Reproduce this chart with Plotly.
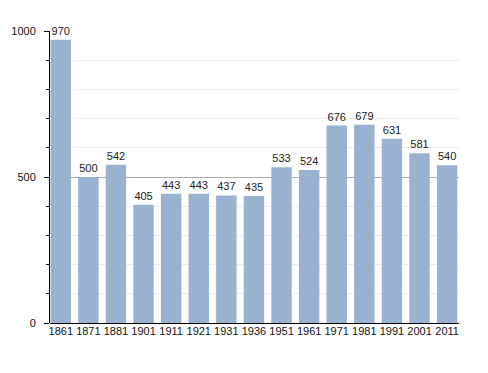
import plotly.graph_objects as go

years = ["1861", "1871", "1881", "1901", "1911", "1921", "1931", "1936",
         "1951", "1961", "1971", "1981", "1991", "2001", "2011"]
population = [970, 500, 542, 405, 443, 443, 437, 435, 533, 524, 676, 679, 631, 581, 540]
y_ticks = [0, 500, 1000]

fig = go.Figure()
fig.add_trace(go.Bar(
    x=years, y=population,
    marker=dict(color="#98b2cf", line=dict(width=0)),
    text=[str(v) for v in population],
    textposition="outside",
    textfont=dict(family="Liberation Sans, Arial, sans-serif", size=11, color="#222"),
    cliponaxis=False,
    width=0.74,
))

# page body has an 8px default margin, so shift the plot area up/left by 8px
fig.update_layout(
    width=488, height=373,
    margin=dict(l=42, r=37, t=23, b=58),
    paper_bgcolor="white", plot_bgcolor="white",
    showlegend=False,
    font=dict(family="Liberation Sans, Arial, sans-serif", size=11, color="#111"),
    xaxis=dict(
        type="category", range=[-0.39, 14.43], automargin=False,
        showline=False, ticks="", showgrid=False,
        tickfont=dict(size=11, color="#111"),
    ),
    yaxis=dict(
        range=[0, 1000], tickvals=y_ticks, automargin=False,
        showline=True, linecolor="black", linewidth=1,
        ticks="outside", ticklen=5, tickcolor="black",
        showgrid=True, gridcolor="#aaaaaa", gridwidth=1,
        zeroline=True, zerolinecolor="black", zerolinewidth=1,
        minor=dict(dtick=100, ticks="outside", ticklen=3, tickcolor="black",
                   showgrid=True, gridcolor="#ececec", gridwidth=1),
        tickfont=dict(size=11, color="#111"),
        ticklabelstandoff=6,
    ),
)

fig.write_html("out.html")
